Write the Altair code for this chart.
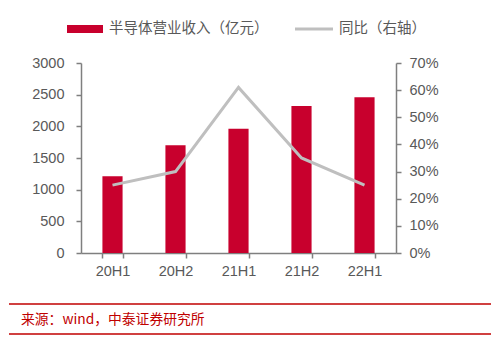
import altair as alt
import pandas as pd

periods = ["20H1", "20H2", "21H1", "21H2", "22H1"]
revenue = [1210, 1700, 1960, 2320, 2460]
yoy = [0.25, 0.30, 0.61, 0.35, 0.25]
left_ticks = [0, 500, 1000, 1500, 2000, 2500, 3000]
right_ticks = [0, 0.1, 0.2, 0.3, 0.4, 0.5, 0.6, 0.7]

legend_labels = ["半导体营业收入（亿元）", "同比（右轴）"]
source_text = ["来源：wind，中泰证券研究所"]

df = pd.DataFrame({"period": periods, "revenue": revenue, "yoy": yoy})

W, H = 315, 190
FONT = "Liberation Sans"
CJK = "Noto Sans CJK SC"
RED = "#C8002D"
GREY_LINE = "#BFBFBF"
AXIS = "#7F7F7F"
LABEL = "#595959"
FOOT = "#C00000"

x = alt.X(
    "period:N", sort=periods, title=None,
    scale=alt.Scale(paddingInner=0.68, paddingOuter=0.34),
    axis=alt.Axis(labelAngle=0, tickBand="extent", domainColor=AXIS, tickColor=AXIS,
                  domainWidth=1.5, tickWidth=1.5, tickSize=5, labelFont=FONT,
                  labelFontSize=14.5, labelColor=LABEL, labelPadding=6),
)

bars = alt.Chart(df).mark_bar(color=RED).encode(
    x=x,
    y=alt.Y("revenue:Q", title=None, scale=alt.Scale(domain=[0, 3000]),
            axis=alt.Axis(values=left_ticks, format="d", grid=False, domainColor=AXIS,
                          tickColor=AXIS, domainWidth=1.5, tickWidth=1.5, tickSize=5,
                          labelFont=FONT, labelFontSize=14.5, labelColor=LABEL,
                          labelPadding=12)),
)

line = alt.Chart(df).mark_line(color=GREY_LINE, strokeWidth=3).encode(
    x=x,
    y=alt.Y("yoy:Q", title=None, scale=alt.Scale(domain=[0, 0.7]),
            axis=alt.Axis(orient="right", values=right_ticks, format=".0%", grid=False,
                          domainColor=AXIS, tickColor=AXIS, domainWidth=1.5, tickWidth=1.5,
                          tickSize=5, labelFont=FONT, labelFontSize=14.5, labelColor=LABEL,
                          labelPadding=8)),
)

leg_df1 = pd.DataFrame({"label": [legend_labels[0]]})
leg_df2 = pd.DataFrame({"label": [legend_labels[1]]})
src_df = pd.DataFrame({"label": source_text})

leg_rect = alt.Chart(leg_df1).mark_rect(color=RED).encode(
    x=alt.value(-14), x2=alt.value(22), y=alt.value(-38), y2=alt.value(-30))
leg_text1 = alt.Chart(leg_df1).mark_text(
    font=CJK, fontSize=14.5, color="#595959", align="left", baseline="middle").encode(
    text="label:N", x=alt.value(28), y=alt.value(-34))
leg_line = alt.Chart(leg_df2).mark_rule(color=GREY_LINE, strokeWidth=3).encode(
    x=alt.value(214), x2=alt.value(252), y=alt.value(-34))
leg_text2 = alt.Chart(leg_df2).mark_text(
    font=CJK, fontSize=14.5, color="#595959", align="left", baseline="middle").encode(
    text="label:N", x=alt.value(258), y=alt.value(-34))

foot_top = alt.Chart(src_df).mark_rule(color=FOOT, strokeWidth=1.5).encode(
    x=alt.value(-72), x2=alt.value(410), y=alt.value(241))
foot_bot = alt.Chart(src_df).mark_rule(color=FOOT, strokeWidth=1.5).encode(
    x=alt.value(-72), x2=alt.value(410), y=alt.value(271))
foot_text = alt.Chart(src_df).mark_text(
    font=CJK, fontSize=13.8, color=FOOT, align="left", baseline="middle").encode(
    text="label:N", x=alt.value(-60), y=alt.value(257))

chart = alt.layer(
    bars, line, leg_rect, leg_text1, leg_line, leg_text2, foot_top, foot_bot, foot_text
).resolve_scale(y="independent").properties(
    width=W, height=H,
    autosize=alt.AutoSizeParams(type="none"),
    padding={"left": 81, "top": 63, "right": 104, "bottom": 95},
    background="white",
).configure_view(stroke=None)

chart.save("out.html", embed_options={"renderer": "svg", "actions": False})
